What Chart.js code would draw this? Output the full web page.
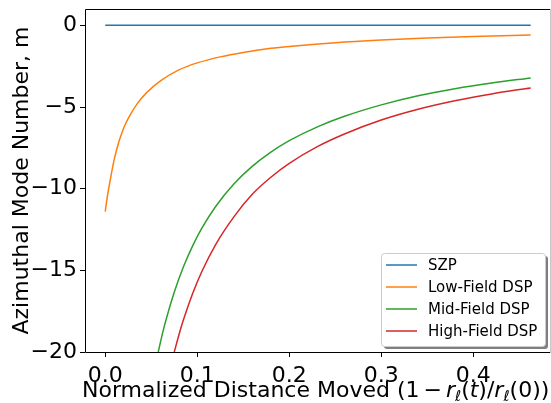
<!DOCTYPE html>
<html>
<head>
<meta charset="utf-8">
<title>Azimuthal Mode Number</title>
<script src="https://cdn.jsdelivr.net/npm/chart.js@4.4.1/dist/chart.umd.min.js"></script>
<style>
  html, body { margin: 0; padding: 0; background: #fff; overflow: hidden; }
  canvas { display: block; }
</style>
</head>
<body>
<canvas id="modeChart" width="551" height="403"></canvas>
<script>
  // ── data ────────────────────────────────────────────────
  var SZP_X = [0.0, 0.4624];
  var SZP_M = [0, 0];

  var LOW_X = [0, 0.0025, 0.005, 0.01, 0.015, 0.02, 0.025, 0.035, 0.045, 0.06, 0.08, 0.1, 0.125, 0.15, 0.18, 0.2, 0.25, 0.3, 0.35, 0.4, 0.4624];
  var LOW_M = [-11.4, -10.4, -9.6, -8.15, -7.1, -6.3, -5.7, -4.78, -4.12, -3.4, -2.73, -2.3, -1.93, -1.66, -1.41, -1.29, -1.06, -0.9, -0.78, -0.68, -0.59];

  var MID_X = [0.0576, 0.0625, 0.0667, 0.075, 0.085, 0.095, 0.105, 0.12, 0.14, 0.16, 0.18, 0.2, 0.23, 0.26, 0.3, 0.34, 0.38, 0.42, 0.4624];
  var MID_M = [-20, -18.8, -17.9, -16.34, -14.78, -13.5, -12.42, -11.09, -9.7, -8.62, -7.76, -7.06, -6.23, -5.57, -4.87, -4.31, -3.88, -3.53, -3.22];

  var HIGH_X = [0.075, 0.08, 0.085, 0.095, 0.105, 0.12, 0.14, 0.16, 0.18, 0.2, 0.23, 0.26, 0.3, 0.34, 0.38, 0.42, 0.4624];
  var HIGH_M = [-20, -18.97, -18.03, -16.42, -15.07, -13.42, -11.71, -10.33, -9.3, -8.45, -7.44, -6.65, -5.8, -5.14, -4.62, -4.2, -3.83];

  var SERIES_NAMES = ["SZP", "Low-Field DSP", "Mid-Field DSP", "High-Field DSP"];
  var SERIES_COLORS = ["#1f77b4", "#ff7f0e", "#2ca02c", "#d62728"];

  var X_TICKS = [0.0, 0.1, 0.2, 0.3, 0.4];
  var Y_TICKS = [-20, -15, -10, -5, 0];

  var FONT = "DejaVu Sans";

  function pts(xs, ys) {
    return xs.map(function (x, i) { return { x: x, y: ys[i] }; });
  }

  function lineSet(i, xs, ys) {
    return {
      label: SERIES_NAMES[i],
      data: pts(xs, ys),
      borderColor: SERIES_COLORS[i],
      backgroundColor: SERIES_COLORS[i],
      borderWidth: 1.5,
      pointRadius: 0,
      fill: false,
      cubicInterpolationMode: "monotone"
    };
  }

  // matplotlib style minus sign
  function fmt(v, digits) {
    var s = v.toFixed(digits);
    return s.charAt(0) === "-" ? "\u2212" + s.slice(1) : s;
  }

  // keep the plot box fixed regardless of label overhang
  function noPad(s) {
    s.paddingTop = 0; s.paddingBottom = 0; s.paddingLeft = 0; s.paddingRight = 0;
  }

  // ── frame, legend and axis label ───────────────────────
  var decorations = {
    id: "decorations",
    afterDatasetsDraw: function (chart) {
      var ctx = chart.ctx, a = chart.chartArea;
      var l = Math.round(a.left), t = Math.round(a.top), r = Math.round(a.right), b = Math.round(a.bottom);
      ctx.save();
      ctx.lineWidth = 1;
      ctx.strokeStyle = "#000";
      ctx.beginPath();
      ctx.moveTo(r, t + 0.5);
      ctx.lineTo(l + 0.5, t + 0.5);
      ctx.lineTo(l + 0.5, b + 0.5);
      ctx.lineTo(r, b + 0.5);
      ctx.stroke();
      ctx.strokeStyle = "#c8c8c8";
      ctx.beginPath();
      ctx.moveTo(r + 0.5, t);
      ctx.lineTo(r + 0.5, b + 1);
      ctx.stroke();
      ctx.restore();
    },
    afterDraw: function (chart) {
      var ctx = chart.ctx;
      ctx.save();

      // legend box with drop shadow
      var bx = 381, by = 253, bw = 164, bh = 93;
      ctx.fillStyle = "rgba(0,0,0,0.5)";
      ctx.beginPath();
      ctx.roundRect(bx + 3, by + 3, bw, bh, 3);
      ctx.fill();
      ctx.fillStyle = "#fff";
      ctx.strokeStyle = "#cccccc";
      ctx.lineWidth = 1;
      ctx.beginPath();
      ctx.roundRect(bx + 0.5, by + 0.5, bw, bh, 3);
      ctx.fill();
      ctx.stroke();

      ctx.font = "15px '" + FONT + "'";
      ctx.textBaseline = "middle";
      ctx.textAlign = "left";
      chart.data.datasets.forEach(function (ds, i) {
        var y = 265 + i * 22;
        ctx.strokeStyle = ds.borderColor;
        ctx.lineWidth = 1.5;
        ctx.beginPath();
        ctx.moveTo(386, y);
        ctx.lineTo(417, y);
        ctx.stroke();
        ctx.fillStyle = "#000";
        ctx.fillText(ds.label, 428, y + 1);
      });

      // x axis title with math part
      var reg = "22px '" + FONT + "'";
      var ita = "italic 22px '" + FONT + "'";
      var sub = "italic 15px '" + FONT + "'";
      var parts = [
        { t: "Normalized Distance Moved (1", f: reg, dy: 0, gap: 0 },
        { t: "\u2212", f: reg, dy: 0, gap: 4 },
        { t: "r", f: ita, dy: 0, gap: 4 },
        { t: "\u2113", f: sub, dy: 4, gap: 0 },
        { t: "(", f: reg, dy: 0, gap: 0 },
        { t: "t", f: ita, dy: 0, gap: 0 },
        { t: ")/", f: reg, dy: 0, gap: 0 },
        { t: "r", f: ita, dy: 0, gap: 0 },
        { t: "\u2113", f: sub, dy: 4, gap: 0 },
        { t: "(0))", f: reg, dy: 0, gap: 0 }
      ];
      var x = 82, base = 397;
      ctx.textBaseline = "alphabetic";
      ctx.fillStyle = "#000";
      parts.forEach(function (p) {
        ctx.font = p.f;
        x += p.gap;
        ctx.fillText(p.t, x, base + p.dy);
        x += ctx.measureText(p.t).width;
      });
      ctx.restore();
    }
  };

  new Chart(document.getElementById("modeChart").getContext("2d"), {
    type: "line",
    data: {
      datasets: [
        lineSet(0, SZP_X, SZP_M),
        lineSet(1, LOW_X, LOW_M),
        lineSet(2, MID_X, MID_M),
        lineSet(3, HIGH_X, HIGH_M)
      ]
    },
    options: {
      responsive: false,
      animation: false,
      devicePixelRatio: 1,
      layout: { padding: { top: 9, right: 1, left: 0, bottom: 0 } },
      plugins: { legend: { display: false }, tooltip: { enabled: false } },
      scales: {
        x: {
          type: "linear",
          min: -0.022,
          max: 0.4834,
          afterBuildTicks: function (s) { s.ticks = X_TICKS.map(function (v) { return { value: v }; }); },
          afterFit: function (s) { s.height = 51; noPad(s); },
          border: { display: false },
          grid: { drawOnChartArea: false, drawTicks: true, tickLength: 5, color: "#000", lineWidth: 1 },
          ticks: {
            color: "#000",
            padding: 6,
            maxRotation: 0,
            autoSkip: false,
            font: { family: FONT, size: 22 },
            callback: function (v) { return fmt(v, 1); }
          }
        },
        y: {
          type: "linear",
          min: -20,
          max: 1,
          afterBuildTicks: function (s) { s.ticks = Y_TICKS.map(function (v) { return { value: v }; }); },
          afterFit: function (s) { s.width = 85; noPad(s); },
          border: { display: false },
          grid: { drawOnChartArea: false, drawTicks: true, tickLength: 5, color: "#000", lineWidth: 1 },
          ticks: {
            color: "#000",
            padding: 3,
            autoSkip: false,
            font: { family: FONT, size: 22 },
            callback: function (v) { return fmt(v, 0); }
          },
          title: {
            display: true,
            text: "Azimuthal Mode Number, m",
            color: "#000",
            font: { family: FONT, size: 22 },
            padding: { top: 9, bottom: 0 }
          }
        }
      }
    },
    plugins: [decorations]
  });
</script>
</body>
</html>
